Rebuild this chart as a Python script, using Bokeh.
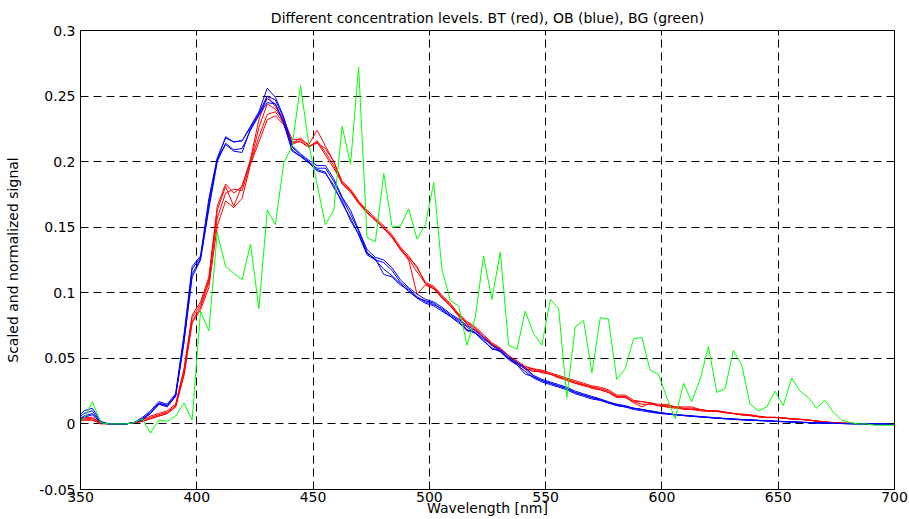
from bokeh.plotting import figure
from bokeh.models import FixedTicker, LinearAxis, Range1d
from bokeh.embed import file_html
from bokeh.resources import INLINE

# ---- data ----
wavelength = [
    347.9, 351.5, 355.1, 358.7, 362.2, 365.8, 369.4, 373.0, 376.6, 380.1,
    383.7, 387.3, 390.9, 394.5, 398.0, 401.6, 405.2, 408.8, 412.4, 415.9,
    419.5, 423.1, 426.7, 430.3, 433.8, 437.4, 441.0, 444.6, 448.2, 451.7,
    455.3, 458.9, 462.5, 466.1, 469.6, 473.2, 476.8, 480.4, 484.0, 487.5,
    491.1, 494.7, 498.3, 501.9, 505.4, 509.0, 512.6, 516.2, 519.8, 523.3,
    526.9, 530.5, 534.1, 537.7, 541.2, 544.8, 548.4, 552.0, 555.6, 559.1,
    562.7, 566.3, 569.9, 573.5, 577.0, 580.6, 584.2, 587.8, 591.4, 594.9,
    598.5, 602.1, 605.7, 609.3, 612.8, 616.4, 620.0, 623.6, 627.2, 630.7,
    634.3, 637.9, 641.5, 645.1, 648.6, 652.2, 655.8, 659.4, 663.0, 666.5,
    670.1, 673.7, 677.3, 680.9, 684.4, 688.0, 691.6, 695.2, 698.8, 702.3,
]

bt_red_1 = [
    0.001, 0.005, 0.005, 0.001, 0.000, 0.000, 0.000, 0.001, 0.003, 0.006,
    0.008, 0.010, 0.015, 0.042, 0.083, 0.093, 0.112, 0.166, 0.183, 0.176,
    0.181, 0.202, 0.232, 0.250, 0.242, 0.232, 0.217, 0.217, 0.213, 0.224,
    0.212, 0.200, 0.185, 0.179, 0.170, 0.163, 0.157, 0.151, 0.144, 0.135,
    0.128, 0.119, 0.108, 0.105, 0.098, 0.092, 0.084, 0.078, 0.074, 0.068,
    0.062, 0.058, 0.052, 0.048, 0.044, 0.042, 0.041, 0.039, 0.037, 0.035,
    0.033, 0.031, 0.029, 0.028, 0.026, 0.022, 0.022, 0.018, 0.017, 0.016,
    0.015, 0.015, 0.013, 0.013, 0.013, 0.011, 0.010, 0.010, 0.009, 0.008,
    0.0075, 0.007, 0.006, 0.005, 0.005, 0.0048, 0.004, 0.0036, 0.003, 0.0024,
    0.0016, 0.001, 0.0007, 0.0005, 0.0003, 0.0002, 0.0001, 0.0, 0.0, 0.0,
]
bt_red_2 = [
    0.001, 0.004, 0.004, 0.001, 0.000, 0.000, 0.000, 0.001, 0.002, 0.005,
    0.007, 0.009, 0.014, 0.041, 0.081, 0.091, 0.110, 0.163, 0.181, 0.166,
    0.182, 0.200, 0.226, 0.244, 0.240, 0.231, 0.214, 0.218, 0.212, 0.214,
    0.210, 0.200, 0.183, 0.177, 0.168, 0.161, 0.156, 0.150, 0.142, 0.133,
    0.127, 0.120, 0.107, 0.104, 0.097, 0.091, 0.083, 0.077, 0.073, 0.067,
    0.061, 0.057, 0.052, 0.047, 0.043, 0.042, 0.040, 0.038, 0.036, 0.034,
    0.032, 0.030, 0.028, 0.027, 0.025, 0.021, 0.021, 0.017, 0.017, 0.016,
    0.014, 0.014, 0.013, 0.012, 0.012, 0.011, 0.010, 0.010, 0.009, 0.008,
    0.007, 0.0066, 0.0056, 0.005, 0.005, 0.0046, 0.0038, 0.0035, 0.003, 0.0022,
    0.0015, 0.001, 0.0006, 0.0004, 0.0003, 0.0002, 0.0001, 0.0, 0.0, 0.0,
]
bt_red_3 = [
    0.001, 0.003, 0.003, 0.001, 0.000, 0.000, 0.000, 0.001, 0.002, 0.004,
    0.006, 0.008, 0.013, 0.038, 0.078, 0.089, 0.108, 0.157, 0.176, 0.179,
    0.178, 0.199, 0.219, 0.236, 0.238, 0.229, 0.215, 0.215, 0.211, 0.216,
    0.207, 0.197, 0.183, 0.177, 0.169, 0.162, 0.155, 0.149, 0.142, 0.134,
    0.126, 0.116, 0.107, 0.103, 0.097, 0.090, 0.083, 0.076, 0.072, 0.066,
    0.060, 0.056, 0.050, 0.046, 0.042, 0.040, 0.040, 0.038, 0.036, 0.033,
    0.031, 0.029, 0.028, 0.026, 0.024, 0.020, 0.021, 0.016, 0.013, 0.016,
    0.014, 0.013, 0.013, 0.011, 0.011, 0.011, 0.010, 0.0095, 0.0088, 0.008,
    0.007, 0.0064, 0.0054, 0.005, 0.005, 0.0044, 0.0037, 0.0034, 0.0029, 0.0021,
    0.0014, 0.001, 0.0006, 0.0004, 0.0003, 0.0002, 0.0001, 0.0, 0.0, 0.0,
]
bt_red_4 = [
    0.001, 0.003, 0.003, 0.000, 0.000, 0.000, 0.000, 0.001, 0.002, 0.004,
    0.006, 0.008, 0.013, 0.037, 0.077, 0.087, 0.104, 0.151, 0.170, 0.165,
    0.172, 0.198, 0.215, 0.232, 0.235, 0.228, 0.213, 0.216, 0.211, 0.215,
    0.205, 0.195, 0.184, 0.178, 0.169, 0.161, 0.155, 0.149, 0.143, 0.133,
    0.125, 0.099, 0.106, 0.103, 0.096, 0.090, 0.082, 0.071, 0.072, 0.066,
    0.061, 0.056, 0.050, 0.046, 0.042, 0.041, 0.039, 0.038, 0.035, 0.034,
    0.031, 0.030, 0.027, 0.026, 0.024, 0.021, 0.020, 0.017, 0.015, 0.015,
    0.014, 0.013, 0.012, 0.012, 0.011, 0.010, 0.0095, 0.0095, 0.0085, 0.0078,
    0.0068, 0.0063, 0.0054, 0.0048, 0.0049, 0.0044, 0.0037, 0.0034, 0.0029, 0.0021,
    0.0014, 0.0009, 0.0005, 0.0003, 0.0002, 0.0001, 0.0001, 0.0, 0.0, 0.0,
]

ob_blue_1 = [
    0.003, 0.010, 0.012, 0.002, 0.000, 0.000, 0.000, 0.001, 0.005, 0.010,
    0.017, 0.015, 0.023, 0.068, 0.120, 0.128, 0.172, 0.203, 0.218, 0.215,
    0.216, 0.227, 0.238, 0.256, 0.249, 0.234, 0.212, 0.206, 0.201, 0.197,
    0.197, 0.187, 0.173, 0.163, 0.148, 0.133, 0.127, 0.125, 0.119, 0.110,
    0.104, 0.099, 0.095, 0.093, 0.089, 0.084, 0.080, 0.075, 0.071, 0.066,
    0.060, 0.057, 0.051, 0.047, 0.043, 0.037, 0.034, 0.032, 0.030, 0.028,
    0.025, 0.023, 0.021, 0.019, 0.017, 0.015, 0.014, 0.012, 0.011, 0.010,
    0.009, 0.008, 0.0072, 0.0067, 0.0062, 0.0057, 0.0052, 0.0047, 0.0042, 0.0038,
    0.0034, 0.0031, 0.0028, 0.0025, 0.0021, 0.0019, 0.0016, 0.0014, 0.0011, 0.0009,
    0.0007, 0.0005, 0.0004, 0.0002, 0.0001, 0.0, 0.0, 0.0, 0.0, 0.0,
]
ob_blue_2 = [
    0.002, 0.008, 0.010, 0.001, 0.000, 0.000, 0.000, 0.001, 0.004, 0.009,
    0.016, 0.014, 0.022, 0.066, 0.118, 0.127, 0.169, 0.202, 0.213, 0.208,
    0.207, 0.225, 0.237, 0.250, 0.247, 0.233, 0.211, 0.205, 0.200, 0.194,
    0.192, 0.180, 0.170, 0.155, 0.145, 0.130, 0.126, 0.114, 0.112, 0.106,
    0.102, 0.096, 0.094, 0.092, 0.087, 0.082, 0.078, 0.071, 0.070, 0.064,
    0.057, 0.056, 0.050, 0.045, 0.038, 0.036, 0.033, 0.031, 0.029, 0.027,
    0.024, 0.022, 0.020, 0.019, 0.016, 0.014, 0.013, 0.012, 0.011, 0.0095,
    0.0085, 0.0077, 0.007, 0.0064, 0.0059, 0.0054, 0.0049, 0.0044, 0.004, 0.0036,
    0.0032, 0.003, 0.0026, 0.0023, 0.002, 0.0017, 0.0015, 0.0012, 0.001, 0.0008,
    0.0006, 0.0004, 0.0003, 0.0002, 0.0001, 0.0, 0.0, 0.0, 0.0, 0.0,
]
ob_blue_3 = [
    0.002, 0.006, 0.008, 0.001, 0.000, 0.000, 0.000, 0.001, 0.004, 0.008,
    0.015, 0.014, 0.021, 0.063, 0.114, 0.126, 0.166, 0.201, 0.219, 0.215,
    0.216, 0.226, 0.236, 0.248, 0.244, 0.230, 0.209, 0.204, 0.199, 0.195,
    0.195, 0.185, 0.172, 0.160, 0.147, 0.131, 0.125, 0.123, 0.117, 0.108,
    0.103, 0.097, 0.093, 0.091, 0.088, 0.083, 0.079, 0.074, 0.069, 0.065,
    0.060, 0.055, 0.050, 0.046, 0.042, 0.036, 0.033, 0.031, 0.029, 0.027,
    0.024, 0.022, 0.020, 0.018, 0.016, 0.015, 0.013, 0.012, 0.011, 0.010,
    0.0086, 0.0078, 0.0071, 0.0065, 0.006, 0.0055, 0.005, 0.0045, 0.004, 0.0037,
    0.0033, 0.003, 0.0027, 0.0024, 0.002, 0.0018, 0.0015, 0.0013, 0.001, 0.0008,
    0.0006, 0.0005, 0.0003, 0.0002, 0.0001, 0.0, 0.0, 0.0, 0.0, 0.0,
]
ob_blue_4 = [
    0.001, 0.005, 0.007, 0.001, 0.000, 0.000, 0.000, 0.001, 0.003, 0.008,
    0.015, 0.013, 0.021, 0.062, 0.112, 0.125, 0.164, 0.200, 0.214, 0.209,
    0.210, 0.224, 0.235, 0.245, 0.244, 0.229, 0.208, 0.204, 0.199, 0.193,
    0.191, 0.182, 0.168, 0.157, 0.144, 0.129, 0.125, 0.118, 0.113, 0.107,
    0.101, 0.096, 0.092, 0.090, 0.086, 0.082, 0.077, 0.072, 0.069, 0.063,
    0.058, 0.055, 0.049, 0.045, 0.040, 0.035, 0.032, 0.030, 0.028, 0.026,
    0.023, 0.021, 0.019, 0.018, 0.016, 0.014, 0.013, 0.011, 0.010, 0.009,
    0.008, 0.0075, 0.0068, 0.0063, 0.0058, 0.0053, 0.0048, 0.0043, 0.0039, 0.0035,
    0.0031, 0.0028, 0.0025, 0.0022, 0.0019, 0.0017, 0.0014, 0.0012, 0.0009, 0.0007,
    0.0005, 0.0004, 0.0003, 0.0001, 0.0001, 0.0, 0.0, 0.0, 0.0, 0.0,
]

bg_green = [
    0.000, 0.004, 0.017, 0.001, 0.000, 0.000, 0.000, 0.001, 0.004, -0.007,
    0.003, 0.002, 0.006, 0.016, 0.003, 0.086, 0.071, 0.146, 0.120, 0.115,
    0.110, 0.137, 0.088, 0.163, 0.152, 0.199, 0.212, 0.258, 0.213, 0.183,
    0.152, 0.163, 0.227, 0.198, 0.272, 0.142, 0.139, 0.191, 0.150, 0.151,
    0.164, 0.141, 0.152, 0.184, 0.118, 0.094, 0.090, 0.060, 0.082, 0.128,
    0.095, 0.131, 0.060, 0.057, 0.086, 0.069, 0.060, 0.095, 0.088, 0.020,
    0.074, 0.079, 0.039, 0.081, 0.080, 0.034, 0.042, 0.065, 0.066, 0.041,
    0.038, 0.020, 0.004, 0.031, 0.017, 0.034, 0.059, 0.024, 0.027, 0.056,
    0.045, 0.015, 0.010, 0.013, 0.025, 0.014, 0.035, 0.025, 0.020, 0.012,
    0.018, 0.009, 0.003, 0.001, 0.000, 0.000, -0.001, -0.001, -0.001, -0.001,
]

x_ticks = [350, 400, 450, 500, 550, 600, 650, 700]
x_tick_labels = ["350", "400", "450", "500", "550", "600", "650", "700"]
y_ticks = [-0.05, 0.0, 0.05, 0.1, 0.15, 0.2, 0.25, 0.3]
y_tick_labels = ["-0.05", "0", "0.05", "0.1", "0.15", "0.2", "0.25", "0.3"]

title_text = "Different concentration levels. BT (red), OB (blue), BG (green)"
x_label_text = "Wavelength [nm]"
y_label_text = "Scaled and normalized signal"

FONT = "DejaVu Sans"

p = figure(width=909, height=519, output_backend="svg", toolbar_location=None,
           tools="", x_range=Range1d(350, 700), y_range=Range1d(-0.05, 0.3),
           title=title_text, x_axis_label=x_label_text, y_axis_label=y_label_text,
           min_border_left=80, min_border_right=15, min_border_top=30,
           min_border_bottom=30)
p.background_fill_color = "white"
p.border_fill_color = "white"
p.outline_line_color = "black"
p.outline_line_width = 1

p.title.text_font = FONT
p.title.text_font_size = "14px"
p.title.text_font_style = "normal"
p.title.text_color = "black"
p.title.align = "center"
p.title.standoff = 10


def style_axis(ax, ticks, labels, show_labels=True):
    ax.ticker = FixedTicker(ticks=ticks)
    ax.major_tick_in = 5
    ax.major_tick_out = 0
    ax.minor_tick_in = 0
    ax.minor_tick_out = 0
    ax.axis_line_color = "black"
    ax.major_tick_line_color = "black"
    ax.major_label_text_font = FONT
    if show_labels:
        ax.major_label_overrides = dict(zip(ticks, labels))
        ax.major_label_text_font_size = "14px"
        ax.major_label_text_color = "black"
    else:
        ax.major_label_text_font_size = "1px"
        ax.major_label_text_color = None
        ax.major_label_standoff = 0


style_axis(p.xaxis[0], x_ticks, x_tick_labels)
p.xaxis[0].major_label_standoff = 2
p.xaxis[0].axis_label_text_font = FONT
p.xaxis[0].axis_label_text_font_size = "14px"
p.xaxis[0].axis_label_text_font_style = "normal"
p.xaxis[0].axis_label_text_color = "black"
p.xaxis[0].axis_label_standoff = -5

style_axis(p.yaxis[0], y_ticks, y_tick_labels)
p.yaxis[0].major_label_standoff = 5
p.yaxis[0].axis_label_text_font = FONT
p.yaxis[0].axis_label_text_font_size = "14px"
p.yaxis[0].axis_label_text_font_style = "normal"
p.yaxis[0].axis_label_text_color = "black"
p.yaxis[0].axis_label_standoff = 15

top_axis = LinearAxis()
style_axis(top_axis, x_ticks, x_tick_labels, show_labels=False)
p.add_layout(top_axis, "above")
right_axis = LinearAxis()
style_axis(right_axis, y_ticks, y_tick_labels, show_labels=False)
p.add_layout(right_axis, "right")

for g, t in ((p.xgrid[0], x_ticks), (p.ygrid[0], y_ticks)):
    g.ticker = FixedTicker(ticks=t)
    g.grid_line_color = "black"
    g.grid_line_dash = "8 5"
    g.grid_line_width = 1

for ys in (bt_red_1, bt_red_2, bt_red_3, bt_red_4):
    p.line(wavelength, ys, line_color="#ff0000", line_width=1)
for ys in (ob_blue_1, ob_blue_2, ob_blue_3, ob_blue_4):
    p.line(wavelength, ys, line_color="#0000ff", line_width=1)
p.line(wavelength, bg_green, line_color="#00ff00", line_width=1)

open("out.html", "w").write(file_html(p, INLINE))
